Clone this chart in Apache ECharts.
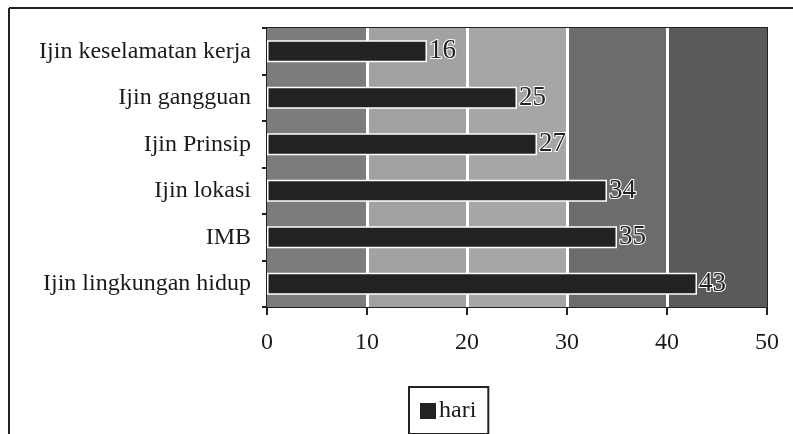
<!DOCTYPE html>
<html>
<head>
<meta charset="utf-8">
<script src="https://cdn.jsdelivr.net/npm/echarts@6/dist/echarts.min.js"></script>
<style>html,body{margin:0;padding:0;background:#fff}#c{width:793px;height:434px}</style>
</head>
<body>
<div id="c"></div>
<script>
const categories = ['Ijin lingkungan hidup', 'IMB', 'Ijin lokasi', 'Ijin Prinsip', 'Ijin gangguan', 'Ijin keselamatan kerja'];
const hari = [43, 35, 34, 27, 25, 16];
const seriesName = 'hari';
const xTicks = [0, 10, 20, 30, 40, 50];
const columnShades = [
  [0, 10, '#7c7c7c'],
  [10, 20, '#a2a2a2'],
  [20, 30, '#a6a6a6'],
  [30, 40, '#6c6c6c'],
  [40, 50, '#5a5a5a']
];

const chart = echarts.init(document.getElementById('c'), null, {renderer: 'canvas'});
const serif = '"Liberation Serif", "DejaVu Serif", serif';
chart.setOption({
  backgroundColor: '#fff',
  animation: false,
  grid: {left: 267, right: 26, top: 28, bottom: 127, show: true, borderColor: '#222', borderWidth: 2, backgroundColor: 'transparent'},
  xAxis: {
    type: 'value', min: xTicks[0], max: xTicks[xTicks.length - 1], interval: 10,
    axisLine: {show: true, lineStyle: {color: '#222', width: 2}},
    axisTick: {show: true, length: 8, lineStyle: {color: '#222', width: 2}},
    axisLabel: {margin: 24, color: '#1a1a1a', fontFamily: serif, fontSize: 24},
    splitLine: {show: false}
  },
  yAxis: {
    type: 'category', data: categories,
    axisLine: {show: true, lineStyle: {color: '#222', width: 2}},
    axisTick: {show: true, length: 5, lineStyle: {color: '#222', width: 2}},
    axisLabel: {margin: 16, color: '#1a1a1a', fontFamily: serif, fontSize: 24}
  },
  legend: {
    data: [seriesName], left: 409, top: 387,
    borderColor: '#222', borderWidth: 2, padding: [12, 12, 11, 9],
    itemWidth: 18, itemHeight: 18, icon: 'rect',
    textStyle: {color: '#1a1a1a', fontFamily: serif, fontSize: 24, padding: [0, 0, 0, -3]}
  },
  series: [
    {
      type: 'bar', data: [], silent: true, z: 1,
      markArea: {
        silent: true, z: 1,
        data: columnShades.map(s => [{xAxis: s[0], itemStyle: {color: s[2]}}, {xAxis: s[1]}])
      },
      markLine: {
        silent: true, z: 2, symbol: 'none', label: {show: false},
        lineStyle: {color: '#fff', width: 3, type: 'solid'},
        data: xTicks.slice(1, -1).map(v => ({xAxis: v}))
      }
    },
    {
      name: seriesName, type: 'bar', data: hari, barWidth: 22, barGap: '-100%', z: 5,
      itemStyle: {color: '#222', borderColor: '#fff', borderWidth: 1.5},
      label: {show: true, position: 'right', distance: 2, color: '#222', fontFamily: serif, fontSize: 27,
        textBorderColor: '#fff', textBorderWidth: 2}
    }
  ],
  graphic: [
    {type: 'line', shape: {x1: 9, y1: 8, x2: 9, y2: 434}, style: {stroke: '#222', lineWidth: 2}},
    {type: 'line', shape: {x1: 9, y1: 8, x2: 793, y2: 8}, style: {stroke: '#222', lineWidth: 2}}
  ]
});
</script>
</body>
</html>
